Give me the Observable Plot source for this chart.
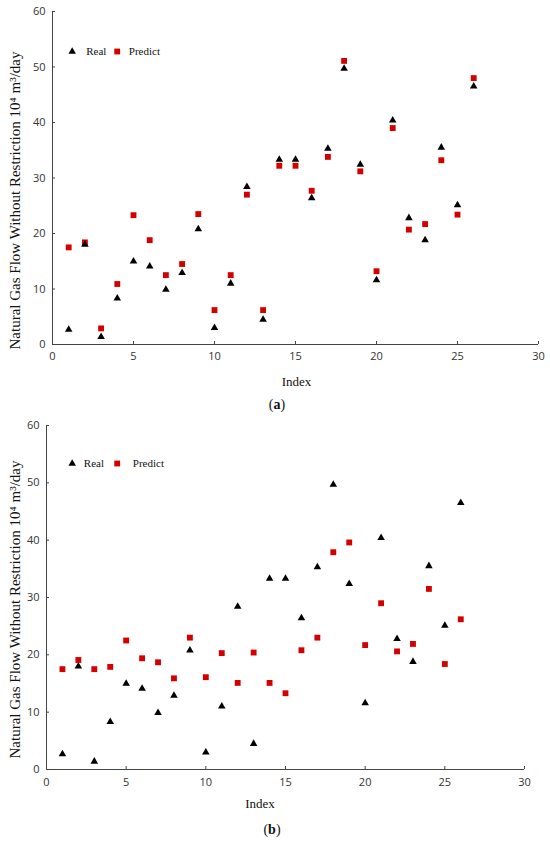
<!DOCTYPE html>
<html><head><meta charset="utf-8">
<script src="https://cdn.jsdelivr.net/npm/d3@7"></script>
<script src="https://cdn.jsdelivr.net/npm/@observablehq/plot@0.6"></script>
<style>
body{margin:0;background:#fff;}
#wrap{position:relative;width:550px;height:843px;overflow:hidden;background:#fff;}
#wrap svg{position:absolute;left:0;}
.cap{position:absolute;font-family:"Liberation Serif","Times New Roman",serif;font-size:14px;color:#111;transform:translate(-50%,-50%);white-space:nowrap;}
</style></head><body><div id="wrap"></div>
<script>
const index = [1,2,3,4,5,6,7,8,9,10,11,12,13,14,15,16,17,18,19,20,21,22,23,24,25,26];
const realValues = [2.7,18.0,1.4,8.3,15.0,14.1,9.9,12.9,20.8,3.0,11.0,28.4,4.5,33.3,33.3,26.4,35.3,49.7,32.4,11.6,40.4,22.8,18.8,35.5,25.1,46.5];
const predictA = [17.5,18.4,2.9,10.9,23.3,18.8,12.5,14.5,23.5,6.2,12.5,27.0,6.2,32.2,32.2,27.7,33.8,51.1,31.2,13.2,39.0,20.7,21.7,33.2,23.4,48.0];
const predictB = [17.5,19.1,17.5,17.9,22.5,19.4,18.7,15.9,23.0,16.1,20.3,15.1,20.4,15.1,13.3,20.8,23.0,37.9,39.6,21.7,29.0,20.6,21.9,31.5,18.4,26.2];
const xTicks = [0,5,10,15,20,25,30];
const yTicks = [0,10,20,30,40,50,60];
const yLabel = "Natural Gas Flow Without Restriction 10\u2074 m\u00B3/day";
const xLabel = "Index";
const legendLabels = ["Real","Predict"];
const captions = ["a","b"];

const serif = "'Liberation Serif','Times New Roman',serif";
const sans = "'Open Sans','DejaVu Sans',sans-serif";
const red = "#d40000";

function panel(predict, c) {
  const rows = index.map((i,k)=>({i, real: realValues[k], pred: predict[k]}));
  const frameH = c.height - c.mt - c.mb;
  const frameW = 550 - c.ml - c.mr;
  return Plot.plot({
    width: 550, height: c.height,
    marginLeft: c.ml, marginRight: c.mr, marginTop: c.mt, marginBottom: c.mb,
    x: {domain:[0,30]}, y: {domain:[0,60]},
    style: {background:"transparent", overflow:"visible", fontFamily: sans, fontSize:"11px"},
    marks: [
      Plot.axisX(xTicks, {tickSize:0, tickPadding:c.xpad, label:null, color:"#333", fontSize:11}),
      Plot.axisY(yTicks, {tickSize:0, tickPadding:7, label:null, color:"#333", fontSize:11}),
      Plot.tickX(xTicks, {x:d=>d, insetTop: frameH-3, stroke:"#444"}),
      Plot.tickY(yTicks, {y:d=>d, insetRight: frameW-3, stroke:"#444"}),
      Plot.ruleX([0], {stroke:"#444"}),
      Plot.ruleY([0], {stroke:"#444"}),
      Plot.dot(rows, {x:"i", y:"pred", symbol:"square", fill:red, r:3.3}),
      Plot.dot(rows, {x:"i", y:"real", symbol:"triangle", fill:"#000", r:2.8}),
      Plot.dot([legendLabels[0]], {frameAnchor:"top-left", dx:c.lg[0], dy:c.lg[4], symbol:"triangle", fill:"#000", r:2.8}),
      Plot.text([legendLabels[0]], {text:d=>d, frameAnchor:"top-left", dx:c.lg[1], dy:c.lg[4], textAnchor:"start", lineAnchor:"middle", fontFamily:serif, fontSize:11, fill:"#111"}),
      Plot.dot([legendLabels[1]], {frameAnchor:"top-left", dx:c.lg[2], dy:c.lg[4], symbol:"square", fill:red, r:3.3}),
      Plot.text([legendLabels[1]], {text:d=>d, frameAnchor:"top-left", dx:c.lg[3], dy:c.lg[4], textAnchor:"start", lineAnchor:"middle", fontFamily:serif, fontSize:11, fill:"#111"}),
      Plot.text([xLabel], {text:d=>d, frameAnchor:"bottom", dx:c.xl[0], dy:c.xl[1], textAnchor:"middle", lineAnchor:"middle", fontFamily:serif, fontSize:13, fill:"#111"}),
      Plot.text([yLabel], {text:d=>d, frameAnchor:"left", rotate:-90, dx:c.yl[0], dy:c.yl[1], textAnchor:"middle", lineAnchor:"middle", fontFamily:serif, fontSize:15, fill:"#111"})
    ]
  });
}

const wrap = document.getElementById("wrap");
const a = panel(predictA, {height:420, ml:52, mr:12, mt:11, mb:76, xpad:8, lg:[19.7,33.7,64.7,76.3,40], xl:[1,37], yl:[-37,22.5]});
a.style.top = "0px";
wrap.appendChild(a);
const b = panel(predictB, {height:423, ml:46, mr:26, mt:5, mb:74, xpad:9, lg:[25.7,37.3,70.7,86.3,38], xl:[-25.5,34], yl:[-31,12]});
b.style.top = "420px";
wrap.appendChild(b);

[[captions[0],277,405],[captions[1],272,830]].forEach(([t,x,y])=>{
  const d = document.createElement("div");
  d.className = "cap";
  d.style.left = x+"px"; d.style.top = y+"px";
  d.append("(");
  const bEl = document.createElement("b"); bEl.textContent = t; d.append(bEl);
  d.append(")");
  wrap.appendChild(d);
});
</script></body></html>
